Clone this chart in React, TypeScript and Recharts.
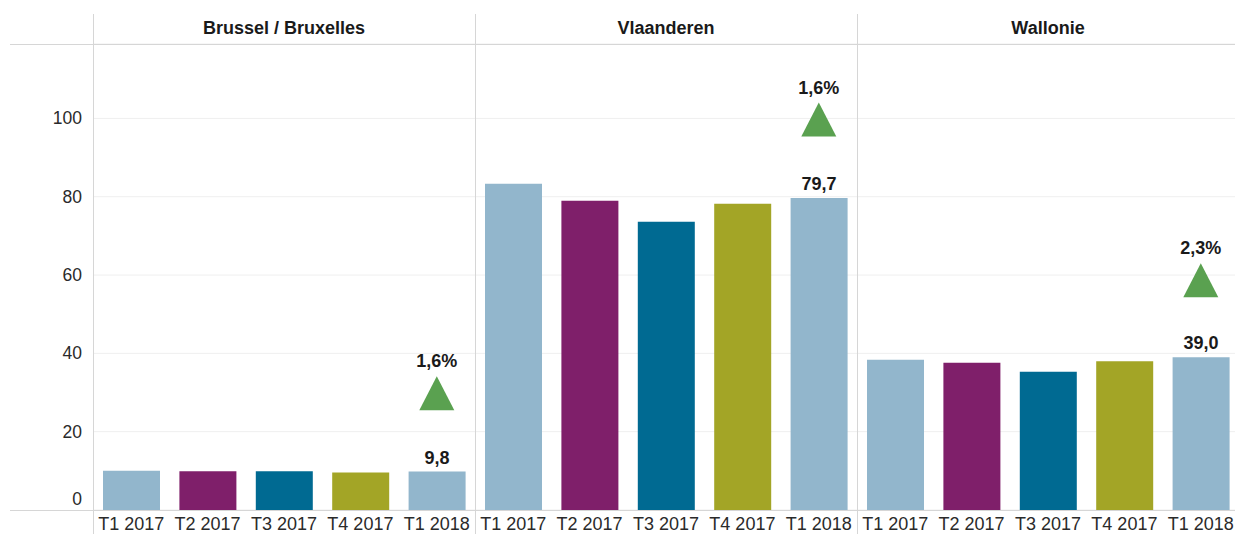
import React from 'react';
import { ComposedChart, Bar, Line, XAxis, YAxis, CartesianGrid, Cell, LabelList } from 'recharts';

const quarters = ['T1 2017', 'T2 2017', 'T3 2017', 'T4 2017', 'T1 2018'];
const regions = ['Brussel / Bruxelles', 'Vlaanderen', 'Wallonie'];
const brussels = [10.0, 9.9, 9.9, 9.6, 9.8];
const vlaanderen = [83.3, 79.0, 73.6, 78.2, 79.7];
const wallonie = [38.4, 37.6, 35.3, 38.0, 39.0];
const growthLabels = ['1,6%', '1,6%', '2,3%'];
// vertical position of the growth triangle
const markerLevel = [29.8, 99.7, 58.7];
const yTicks = [0, 20, 40, 60, 80, 100];

const barColors = ['#92B6CC', '#7F1F6A', '#006A92', '#A3A526', '#92B6CC'];
const font = '"Liberation Sans", Arial, sans-serif';
const lineColor = '#d6d6d6';

const seriesList = [brussels, vlaanderen, wallonie];

const YTick = (props: any) => {
  const { y, payload } = props;
  const isZero = payload.value === 0;
  return (
    <text x={82} y={isZero ? y - 5 : y + 6} textAnchor="end" fontSize={17.5} fontFamily={font} fill="#2a2a2a">
      {payload.value}
    </text>
  );
};

const XTick = (props: any) => {
  const { x, y, payload } = props;
  return (
    <text x={x} y={y + 20} textAnchor="middle" fontSize={18} fontFamily={font} fill="#2a2a2a">
      {payload.value}
    </text>
  );
};

const ValueLabel = (props: any) => {
  const { x, y, width, value } = props;
  if (value === null || value === undefined) return null;
  return (
    <text x={x + width / 2} y={y - 8} textAnchor="middle" fontSize={18} fontWeight="bold" fontFamily={font} fill="#1a1a1a">
      {value}
    </text>
  );
};

const makeTriangle = (label: string) => (props: any) => {
  const { cx, cy, value, index } = props;
  if (value === null || value === undefined || cy == null) return <g key={`t-${index}`} />;
  const h = 34;
  const w = 35;
  return (
    <g key={`t-${index}`}>
      <polygon
        points={`${cx},${cy - h / 2} ${cx + w / 2},${cy + h / 2} ${cx - w / 2},${cy + h / 2}`}
        fill="#5AA150"
      />
      <text x={cx} y={cy - h / 2 - 9} textAnchor="middle" fontSize={18} fontWeight="bold" fontFamily={font} fill="#1a1a1a">
        {label}
      </text>
    </g>
  );
};

const Panel = ({ idx, withAxis }: { idx: number; withAxis: boolean }) => {
  const series = seriesList[idx];
  const data = quarters.map((q, i) => ({
    q,
    value: series[i],
    valueLabel: i === quarters.length - 1 ? series[i].toFixed(1).replace('.', ',') : null,
    marker: i === quarters.length - 1 ? markerLevel[idx] : null,
  }));
  const width = withAxis ? 475 : 382;
  return (
    <ComposedChart width={width} height={534} data={data} margin={{ top: 44, right: 0, bottom: 0, left: 0 }}>
      <CartesianGrid stroke="#efefef" vertical={false} />
      <XAxis dataKey="q" height={24} tickLine={false} axisLine={false} tickSize={0} tickMargin={0} tick={<XTick />} interval={0} />
      <YAxis
        domain={[0, 119]}
        ticks={yTicks}
        width={withAxis ? 93 : 0}
        hide={!withAxis}
        axisLine={false}
        tickLine={false}
        tick={<YTick />}
        allowDataOverflow
      />
      <Bar dataKey="value" barSize={57} isAnimationActive={false}>
        {data.map((_, i) => (
          <Cell key={`c-${i}`} fill={barColors[i]} />
        ))}
        <LabelList dataKey="valueLabel" content={<ValueLabel />} />
      </Bar>
      <Line
        dataKey="marker"
        stroke="none"
        isAnimationActive={false}
        dot={makeTriangle(growthLabels[idx])}
        activeDot={false}
      />
    </ComposedChart>
  );
};

export default function App() {
  const panelLefts = [93, 475, 857];
  return (
    <div style={{ position: 'absolute', left: 0, top: 0, width: 1235, height: 534, overflow: 'hidden', background: '#fff', fontFamily: font }}>
      <div style={{ position: 'absolute', left: 0, top: 0 }}>
        <Panel idx={0} withAxis />
      </div>
      <div style={{ position: 'absolute', left: 475, top: 0 }}>
        <Panel idx={1} withAxis={false} />
      </div>
      <div style={{ position: 'absolute', left: 857, top: 0 }}>
        <Panel idx={2} withAxis={false} />
      </div>

      {/* header and baseline rules */}
      <div style={{ position: 'absolute', left: 10, top: 44, width: 1225, height: 1, background: lineColor }} />
      <div style={{ position: 'absolute', left: 10, top: 510, width: 1225, height: 1, background: lineColor }} />
      {panelLefts.map((x) => (
        <div key={x} style={{ position: 'absolute', left: x, top: 14, width: 1, height: 520, background: lineColor }} />
      ))}

      {regions.map((r, i) => (
        <div
          key={r}
          style={{
            position: 'absolute',
            left: panelLefts[i],
            top: 17,
            width: 382,
            textAlign: 'center',
            fontSize: 18,
            fontWeight: 'bold',
            color: '#1a1a1a',
            lineHeight: '22px',
          }}
        >
          {r}
        </div>
      ))}
    </div>
  );
}
